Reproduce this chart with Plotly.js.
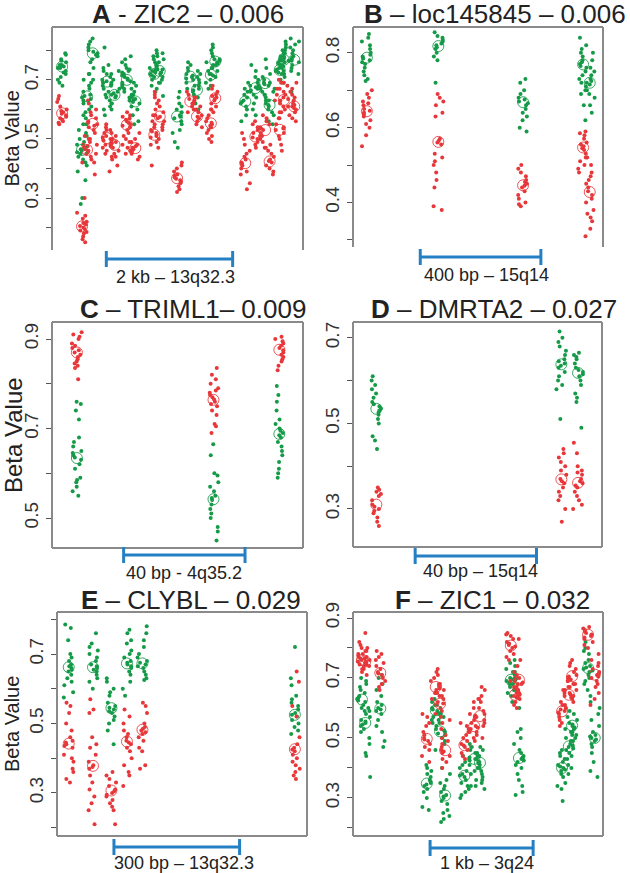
<!DOCTYPE html>
<html><head><meta charset="utf-8">
<script src="https://cdn.plot.ly/plotly-3.0.1.min.js"></script>
<style>html,body{margin:0;padding:0;background:#fff}#chart{width:630px;height:873px}</style>
</head><body><div id="chart"></div>
<script>
// ---------------- DATA ----------------
// Panel titles and scale-bar labels
const titles = ['<b>A</b> - ZIC2 \u2013 0.006', '<b>B</b> \u2013 loc145845 \u2013 0.006', '<b>C</b> \u2013 TRIML1\u2013 0.009',
                '<b>D</b> \u2013 DMRTA2 \u2013 0.027', '<b>E</b> \u2013 CLYBL \u2013 0.029', '<b>F</b> \u2013 ZIC1 \u2013 0.032'];
const scaleLabels = ['2 kb \u2013 13q32.3', '400 bp \u2013 15q14', '40 bp - 4q35.2', '40 bp \u2013 15q14', '300 bp \u2013 13q32.3', '1 kb \u2013 3q24'];
const scaleLengths = [2000, 400, 40, 40, 300, 1000]; // bp

// Panel A - ZIC2 (CpG positions in bp, beta values per site)
const A_pos = [160, 475, 555, 645, 870, 990, 1185, 1320, 1620, 1705, 1980, 2190, 2295, 2515, 2585, 3060, 3220, 3375, 3445, 3605, 3670, 3835];
const A_greenMid = [0.745, 0.463, 0.644, 0.79, 0.694, 0.649, 0.70, 0.627, 0.72, 0.73, 0.576, 0.711, 0.666, 0.717, 0.762, 0.627, 0.672, 0.689, 0.615, 0.734, 0.768, 0.768];
const A_redMid = [0.587, 0.204, 0.463, 0.551, 0.503, 0.48, 0.548, 0.469, 0.514, 0.576, 0.367, 0.627, 0.576, 0.553, 0.638, 0.418, 0.508, 0.53, 0.424, 0.531, 0.632, 0.61];
const A_green = [
 [0.79,0.785,0.77,0.765,0.76,0.75,0.75,0.745,0.74,0.74,0.73,0.725,0.72,0.71,0.70,0.69,0.68],
 [0.59,0.57,0.55,0.53,0.51,0.50,0.49,0.48,0.47,0.465,0.46,0.455,0.45,0.44,0.43,0.42,0.41,0.39,0.36,0.30,0.28],
 [0.72,0.70,0.69,0.68,0.67,0.66,0.65,0.645,0.64,0.635,0.63,0.62,0.61,0.60,0.58,0.55,0.52],
 [0.84,0.83,0.82,0.81,0.80,0.795,0.79,0.785,0.78,0.77,0.76,0.74,0.72,0.70],
 [0.81,0.75,0.74,0.73,0.72,0.71,0.70,0.695,0.69,0.685,0.68,0.67,0.66,0.65,0.64,0.62,0.60,0.58],
 [0.73,0.72,0.70,0.69,0.68,0.67,0.66,0.655,0.65,0.645,0.64,0.63,0.62,0.61,0.60],
 [0.78,0.77,0.76,0.75,0.74,0.735,0.73,0.725,0.72,0.715,0.71,0.705,0.70,0.695,0.69,0.685,0.68,0.675,0.67,0.66,0.65,0.64,0.63],
 [0.69,0.68,0.67,0.66,0.65,0.64,0.635,0.63,0.625,0.62,0.61,0.60,0.58,0.56,0.55],
 [0.80,0.79,0.78,0.77,0.76,0.75,0.745,0.74,0.735,0.73,0.725,0.72,0.715,0.71,0.70,0.69,0.68,0.67],
 [0.79,0.78,0.77,0.76,0.75,0.74,0.735,0.73,0.725,0.72,0.71,0.70,0.69,0.66,0.645],
 [0.66,0.64,0.62,0.61,0.60,0.59,0.58,0.575,0.57,0.56,0.55,0.53,0.52,0.49,0.47],
 [0.76,0.75,0.74,0.73,0.72,0.715,0.71,0.705,0.70,0.69,0.68,0.67],
 [0.73,0.72,0.71,0.70,0.69,0.68,0.67,0.665,0.66,0.65,0.64,0.62,0.60],
 [0.77,0.76,0.75,0.74,0.73,0.72,0.715,0.71,0.70,0.69,0.68,0.67],
 [0.82,0.81,0.80,0.79,0.78,0.77,0.765,0.76,0.755,0.75,0.74,0.73,0.72],
 [0.69,0.68,0.67,0.66,0.65,0.64,0.63,0.625,0.62,0.61,0.60,0.58,0.56],
 [0.75,0.73,0.71,0.70,0.69,0.68,0.675,0.67,0.665,0.66,0.65,0.64,0.62,0.60,0.58],
 [0.77,0.74,0.72,0.71,0.70,0.69,0.685,0.68,0.67,0.66,0.65,0.63],
 [0.69,0.67,0.66,0.65,0.64,0.63,0.62,0.615,0.61,0.60,0.59,0.58,0.56,0.55],
 [0.80,0.79,0.78,0.77,0.765,0.76,0.755,0.75,0.745,0.74,0.735,0.73,0.725,0.72,0.71,0.70,0.69],
 [0.83,0.82,0.81,0.80,0.79,0.78,0.775,0.77,0.765,0.76,0.75,0.74,0.73,0.72],
 [0.84,0.83,0.82,0.81,0.80,0.79,0.78,0.775,0.77,0.765,0.76,0.75,0.74,0.73,0.72,0.66]
];
const A_red = [
 [0.645,0.635,0.625,0.61,0.60,0.595,0.59,0.585,0.58,0.575,0.57,0.565,0.56,0.555,0.55],
 [0.30,0.25,0.24,0.23,0.22,0.215,0.21,0.205,0.20,0.195,0.19,0.185,0.18,0.17,0.16,0.15],
 [0.51,0.50,0.49,0.48,0.475,0.47,0.465,0.46,0.455,0.45,0.44,0.43,0.42],
 [0.63,0.62,0.60,0.59,0.58,0.57,0.56,0.555,0.55,0.545,0.54,0.53,0.52,0.50,0.48,0.45,0.42,0.38],
 [0.55,0.54,0.53,0.52,0.51,0.505,0.50,0.495,0.49,0.48,0.47,0.46,0.45,0.44],
 [0.53,0.52,0.51,0.50,0.49,0.485,0.48,0.475,0.47,0.46,0.45,0.44,0.43,0.41,0.39],
 [0.59,0.58,0.575,0.57,0.565,0.56,0.555,0.55,0.545,0.54,0.53,0.52,0.51,0.50,0.49,0.48,0.47,0.46,0.45],
 [0.52,0.50,0.49,0.48,0.475,0.47,0.465,0.46,0.455,0.45,0.44,0.43],
 [0.58,0.56,0.55,0.54,0.53,0.525,0.52,0.515,0.51,0.505,0.50,0.49,0.48,0.47,0.41],
 [0.66,0.65,0.64,0.63,0.62,0.61,0.60,0.59,0.58,0.575,0.57,0.56,0.55,0.54,0.53],
 [0.42,0.41,0.40,0.39,0.38,0.375,0.37,0.365,0.36,0.355,0.35,0.34,0.33,0.32],
 [0.66,0.65,0.64,0.635,0.63,0.625,0.62,0.61,0.60,0.59],
 [0.64,0.62,0.61,0.60,0.59,0.58,0.575,0.57,0.56,0.55,0.54],
 [0.60,0.59,0.58,0.57,0.56,0.555,0.55,0.545,0.54,0.53,0.52,0.51,0.50,0.49],
 [0.68,0.67,0.66,0.65,0.645,0.64,0.635,0.63,0.62,0.61,0.60],
 [0.52,0.50,0.48,0.46,0.45,0.44,0.43,0.42,0.415,0.41,0.40,0.39,0.38,0.35,0.33],
 [0.56,0.55,0.54,0.53,0.52,0.51,0.505,0.50,0.49,0.48,0.47],
 [0.58,0.57,0.56,0.55,0.54,0.535,0.53,0.52,0.51,0.50,0.49,0.47],
 [0.48,0.47,0.46,0.45,0.44,0.43,0.425,0.42,0.41,0.40,0.39,0.38],
 [0.69,0.67,0.65,0.63,0.61,0.59,0.57,0.55,0.54,0.535,0.53,0.52,0.51,0.50,0.48,0.46],
 [0.70,0.69,0.68,0.67,0.66,0.65,0.64,0.635,0.63,0.62,0.61,0.60,0.59,0.57],
 [0.69,0.67,0.66,0.65,0.64,0.63,0.62,0.615,0.61,0.605,0.60,0.59,0.58,0.57,0.56]
];

// Panel B - loc145845
const B_pos = [46, 283, 564, 763, 785];
const B_greenMid = [0.787, 0.818, 0.668, 0.769, 0.72];
const B_redMid = [0.644, 0.562, 0.446, 0.547, 0.428];
const B_green = [
 [0.85,0.84,0.83,0.82,0.81,0.80,0.795,0.79,0.785,0.78,0.775,0.77,0.76,0.75,0.74,0.73,0.725],
 [0.855,0.845,0.84,0.835,0.83,0.825,0.82,0.815,0.81,0.80,0.79,0.78,0.72],
 [0.73,0.72,0.70,0.69,0.68,0.675,0.67,0.665,0.66,0.65,0.64,0.63,0.62,0.60,0.59],
 [0.84,0.82,0.81,0.80,0.79,0.78,0.775,0.77,0.765,0.76,0.75,0.74,0.73,0.72,0.70,0.69,0.66],
 [0.80,0.78,0.76,0.75,0.74,0.73,0.725,0.72,0.715,0.71,0.70,0.69,0.68,0.66,0.64,0.62]
];
const B_red = [
 [0.70,0.69,0.68,0.67,0.665,0.66,0.65,0.645,0.64,0.635,0.63,0.62,0.61,0.60,0.58,0.55],
 [0.69,0.68,0.67,0.66,0.64,0.63,0.57,0.565,0.56,0.555,0.53,0.52,0.51,0.50,0.48,0.46,0.44,0.39,0.38],
 [0.50,0.49,0.48,0.47,0.46,0.455,0.45,0.445,0.44,0.43,0.42,0.41,0.40,0.395,0.39],
 [0.59,0.585,0.58,0.57,0.56,0.555,0.55,0.545,0.54,0.53,0.52,0.51,0.50,0.49,0.48],
 [0.52,0.50,0.48,0.47,0.46,0.45,0.44,0.43,0.42,0.41,0.40,0.38,0.37,0.36,0.35,0.33,0.31]
];

// Panel C - TRIML1
const C_pos = [8.2, 53.2, 74.9];
const C_greenMid = [0.634, 0.542, 0.688];
const C_redMid = [0.87, 0.764, 0.876];
const C_green = [
 [0.76,0.755,0.74,0.72,0.68,0.67,0.66,0.65,0.645,0.64,0.635,0.63,0.62,0.61,0.59,0.585,0.58,0.57,0.56,0.55],
 [0.665,0.64,0.60,0.595,0.58,0.57,0.56,0.55,0.545,0.54,0.53,0.52,0.51,0.50,0.48,0.47,0.45],
 [0.795,0.775,0.76,0.74,0.72,0.71,0.70,0.695,0.69,0.685,0.68,0.67,0.66,0.65,0.64,0.625,0.61,0.60,0.59]
];
const C_red = [
 [0.915,0.91,0.905,0.90,0.89,0.885,0.88,0.875,0.87,0.865,0.86,0.855,0.85,0.845,0.84,0.835,0.81],
 [0.835,0.82,0.81,0.80,0.79,0.785,0.78,0.775,0.77,0.765,0.76,0.755,0.75,0.74,0.73,0.71,0.705,0.69],
 [0.905,0.90,0.895,0.89,0.885,0.88,0.875,0.87,0.865,0.86,0.855,0.85,0.84,0.83]
];

// Panel D - DMRTA2
const D_pos = [7.7, 68.7, 74.2];
const D_greenMid = [0.534, 0.638, 0.618];
const D_redMid = [0.31, 0.369, 0.361];
const D_green = [
 [0.61,0.60,0.59,0.58,0.57,0.56,0.55,0.545,0.54,0.535,0.53,0.525,0.52,0.51,0.50,0.47,0.46,0.44],
 [0.715,0.70,0.69,0.68,0.67,0.66,0.65,0.645,0.64,0.635,0.63,0.62,0.61,0.60,0.59,0.58,0.51],
 [0.665,0.66,0.655,0.65,0.64,0.63,0.625,0.62,0.615,0.61,0.60,0.59,0.57,0.56,0.55,0.49]
];
const D_red = [
 [0.35,0.345,0.34,0.335,0.33,0.32,0.31,0.305,0.30,0.295,0.29,0.28,0.27,0.26],
 [0.44,0.43,0.42,0.41,0.40,0.39,0.38,0.37,0.365,0.36,0.35,0.34,0.33,0.32,0.30,0.27],
 [0.455,0.43,0.40,0.39,0.385,0.38,0.37,0.365,0.36,0.355,0.35,0.34,0.33,0.32,0.31,0.30]
];

// Panel E - CLYBL
const E_pos = [28, 86, 130, 167, 204, 568];
const E_greenMid = [0.662, 0.662, 0.544, 0.673, 0.673, 0.525];
const E_redMid = [0.442, 0.378, 0.307, 0.448, 0.482, 0.426];
const E_green = [
 [0.785,0.775,0.74,0.70,0.69,0.68,0.67,0.665,0.66,0.655,0.65,0.64,0.63,0.62,0.61,0.59,0.575],
 [0.76,0.73,0.72,0.71,0.70,0.69,0.68,0.67,0.665,0.66,0.655,0.65,0.64,0.63,0.62,0.60],
 [0.63,0.62,0.60,0.59,0.58,0.56,0.55,0.545,0.54,0.535,0.53,0.52,0.51,0.50,0.48,0.44],
 [0.77,0.76,0.74,0.73,0.71,0.70,0.69,0.68,0.675,0.67,0.665,0.66,0.65,0.64,0.62,0.60,0.58],
 [0.78,0.76,0.74,0.72,0.70,0.69,0.68,0.675,0.67,0.665,0.66,0.65,0.64,0.63,0.625],
 [0.72,0.63,0.61,0.58,0.57,0.56,0.55,0.54,0.53,0.525,0.52,0.51,0.50,0.49,0.48,0.47]
];
const E_red = [
 [0.56,0.55,0.53,0.50,0.48,0.46,0.45,0.445,0.44,0.435,0.43,0.41,0.40,0.39,0.37,0.36,0.34,0.33],
 [0.57,0.54,0.53,0.46,0.44,0.43,0.41,0.39,0.38,0.375,0.37,0.35,0.33,0.31,0.29,0.27,0.25,0.21],
 [0.36,0.35,0.34,0.33,0.32,0.31,0.305,0.30,0.295,0.29,0.28,0.27,0.26,0.25,0.21],
 [0.54,0.52,0.50,0.48,0.47,0.46,0.45,0.445,0.44,0.43,0.42,0.40,0.38,0.36,0.35,0.32],
 [0.56,0.55,0.53,0.50,0.49,0.485,0.48,0.475,0.47,0.46,0.45,0.43,0.42,0.38,0.37],
 [0.65,0.62,0.55,0.52,0.46,0.44,0.43,0.425,0.42,0.41,0.40,0.39,0.38,0.37,0.36,0.35,0.34]
];

// Panel F - ZIC1
const F_pos = [87, 119, 265, 716, 803, 845, 894, 1081, 1177, 1232, 1532, 1571, 1610, 2029, 2094, 2126, 2281, 2346];
const F_greenMid = [0.628, 0.55, 0.598, 0.348, 0.592, 0.522, 0.308, 0.374, 0.43, 0.417, 0.694, null, 0.433, 0.40, 0.472, 0.541, 0.733, 0.50];
const F_redMid = [0.76, 0.755, 0.717, 0.497, 0.67, 0.614, 0.459, 0.476, 0.539, 0.573, 0.808, 0.644, 0.694, 0.589, 0.644, 0.706, 0.844, 0.711];
const F_green = [
 [0.70,0.69,0.68,0.67,0.66,0.65,0.64,0.635,0.63,0.625,0.62,0.61,0.60,0.59],
 [0.60,0.59,0.58,0.57,0.56,0.555,0.55,0.545,0.54,0.53,0.52,0.50,0.48,0.45,0.44,0.37],
 [0.71,0.70,0.68,0.66,0.64,0.62,0.61,0.60,0.595,0.59,0.58,0.56,0.54,0.52,0.49,0.47],
 [0.41,0.40,0.39,0.38,0.37,0.36,0.355,0.35,0.345,0.34,0.33,0.32,0.30,0.27,0.26],
 [0.67,0.65,0.63,0.62,0.61,0.60,0.595,0.59,0.585,0.58,0.57,0.56,0.55],
 [0.58,0.57,0.56,0.55,0.54,0.53,0.525,0.52,0.515,0.51,0.50,0.49,0.48,0.46],
 [0.40,0.38,0.36,0.35,0.34,0.33,0.32,0.31,0.305,0.30,0.29,0.28,0.26,0.25,0.24,0.23,0.22],
 [0.44,0.43,0.42,0.41,0.40,0.39,0.38,0.375,0.37,0.36,0.35,0.34,0.33,0.32,0.31,0.30],
 [0.48,0.47,0.46,0.45,0.44,0.435,0.43,0.425,0.42,0.41,0.40,0.39,0.38,0.36,0.34],
 [0.47,0.46,0.45,0.44,0.43,0.42,0.415,0.41,0.40,0.39,0.38,0.37,0.36,0.35,0.34,0.33],
 [0.76,0.75,0.74,0.73,0.72,0.71,0.70,0.695,0.69,0.685,0.68,0.67,0.66,0.65],
 [0.72,0.70,0.68,0.66,0.64,0.62,0.60],
 [0.53,0.52,0.50,0.48,0.46,0.45,0.44,0.435,0.43,0.425,0.42,0.41,0.40,0.38,0.36,0.34,0.32,0.31],
 [0.46,0.45,0.44,0.43,0.42,0.41,0.405,0.40,0.395,0.39,0.38,0.37,0.35,0.34,0.33,0.29],
 [0.53,0.52,0.51,0.50,0.49,0.48,0.475,0.47,0.465,0.46,0.45,0.44,0.43,0.41,0.40,0.38],
 [0.59,0.58,0.57,0.56,0.55,0.545,0.54,0.535,0.53,0.52,0.51,0.50,0.49],
 [0.82,0.80,0.79,0.78,0.76,0.75,0.74,0.735,0.73,0.725,0.72,0.71,0.70,0.69,0.68,0.66,0.64],
 [0.62,0.60,0.58,0.56,0.54,0.52,0.51,0.505,0.50,0.495,0.49,0.48,0.47,0.45,0.42,0.39,0.37]
];
const F_red = [
 [0.85,0.82,0.80,0.79,0.78,0.775,0.77,0.765,0.76,0.755,0.75,0.745,0.74,0.73,0.72],
 [0.81,0.80,0.79,0.78,0.77,0.765,0.76,0.755,0.75,0.745,0.74,0.73,0.71],
 [0.79,0.78,0.77,0.76,0.75,0.74,0.73,0.72,0.715,0.71,0.70,0.69,0.68,0.67,0.66],
 [0.58,0.57,0.55,0.54,0.52,0.51,0.50,0.495,0.49,0.48,0.47,0.46,0.44,0.42],
 [0.73,0.72,0.71,0.70,0.69,0.68,0.675,0.67,0.665,0.66,0.65,0.64,0.63],
 [0.68,0.66,0.65,0.64,0.63,0.62,0.615,0.61,0.60,0.59,0.58,0.57,0.55],
 [0.56,0.53,0.51,0.50,0.49,0.48,0.47,0.46,0.455,0.45,0.44,0.43,0.42,0.40],
 [0.55,0.54,0.53,0.52,0.51,0.50,0.49,0.48,0.475,0.47,0.46,0.45,0.44,0.43],
 [0.63,0.62,0.60,0.58,0.57,0.56,0.55,0.54,0.535,0.53,0.52,0.51,0.50,0.49],
 [0.67,0.66,0.64,0.63,0.62,0.60,0.59,0.58,0.575,0.57,0.56,0.55,0.54,0.52,0.50],
 [0.85,0.845,0.84,0.83,0.82,0.815,0.81,0.805,0.80,0.79,0.78,0.77,0.76],
 [0.70,0.69,0.68,0.67,0.66,0.65,0.645,0.64,0.635,0.63,0.62,0.61,0.60],
 [0.83,0.76,0.74,0.72,0.71,0.70,0.695,0.69,0.685,0.68,0.67,0.66,0.65,0.64],
 [0.66,0.65,0.64,0.62,0.61,0.60,0.595,0.59,0.585,0.58,0.57,0.56,0.55,0.54],
 [0.70,0.69,0.68,0.67,0.66,0.65,0.645,0.64,0.635,0.63,0.62,0.61,0.60],
 [0.76,0.75,0.74,0.73,0.72,0.71,0.705,0.70,0.695,0.69,0.68,0.67,0.66],
 [0.87,0.865,0.86,0.855,0.85,0.845,0.84,0.835,0.83,0.82,0.81,0.80],
 [0.78,0.76,0.75,0.74,0.73,0.72,0.715,0.71,0.705,0.70,0.69,0.68,0.67,0.65,0.63,0.61]
];

// Y tick values and labels
const A_ticks = [0.2,0.3,0.4,0.5,0.6,0.7,0.8], A_tickText = ['','0.3','','0.5','','0.7',''];
const B_ticks = [0.3,0.4,0.5,0.6,0.7,0.8], B_tickText = ['','0.4','','0.6','','0.8'];
const C_ticks = [0.5,0.6,0.7,0.8,0.9], C_tickText = ['0.5','','0.7','','0.9'];
const D_ticks = [0.3,0.4,0.5,0.6,0.7], D_tickText = ['0.3','','0.5','','0.7'];
const E_ticks = [0.2,0.3,0.4,0.5,0.6,0.7,0.8], E_tickText = ['','0.3','','0.5','','0.7',''];
const F_ticks = [0.2,0.3,0.4,0.5,0.6,0.7,0.8,0.9], F_tickText = ['','0.3','','0.5','','0.7','','0.9'];

// ---------------- STYLE / LAYOUT ----------------
const W = 630, H = 873;
const GREEN = '#159a48', RED = '#e8373a', BLUE = '#2580c3', BOXC = '#8a8a8a';
const FONT = 'Liberation Sans, Arial, Helvetica, sans-serif';

const panelData = [
  {pos: A_pos, g: A_green, r: A_red, gm: A_greenMid, rm: A_redMid, tv: A_ticks, tt: A_tickText},
  {pos: B_pos, g: B_green, r: B_red, gm: B_greenMid, rm: B_redMid, tv: B_ticks, tt: B_tickText},
  {pos: C_pos, g: C_green, r: C_red, gm: C_greenMid, rm: C_redMid, tv: C_ticks, tt: C_tickText},
  {pos: D_pos, g: D_green, r: D_red, gm: D_greenMid, rm: D_redMid, tv: D_ticks, tt: D_tickText},
  {pos: E_pos, g: E_green, r: E_red, gm: E_greenMid, rm: E_redMid, tv: E_ticks, tt: E_tickText},
  {pos: F_pos, g: F_green, r: F_red, gm: F_greenMid, rm: F_redMid, tv: F_ticks, tt: F_tickText}
];
// pixel boxes [left, right, top, bottom], axis ranges, scale bar placement
const panelStyle = [
  {box:[52,303,27,250],  xr:[0,3974], yr:[0.124,0.879], bottom:false, barX0:860, barY:259, labX:175, labY:277, tX:188, tY:14, yt:20, ytX:11},
  {box:[353,603,27,247], xr:[0,829],  yr:[0.281,0.869], bottom:false, barX0:223, barY:257, labX:486, labY:275, tX:495, tY:14, yt:0},
  {box:[52,303,322,548], xr:[0,82.7], yr:[0.433,0.938], bottom:true,  barX0:23.6, barY:555, labX:184, labY:573, tX:193, tY:309, yt:24, ytX:13},
  {box:[353,602,322,547],xr:[0,82.1], yr:[0.211,0.737], bottom:true,  barX0:20.5, barY:556, labX:481, labY:571, tX:494, tY:309, yt:0},
  {box:[57,307,612,836], xr:[0,597],  yr:[0.176,0.821], bottom:true,  barX0:136, barY:847, labX:184, labY:863, tX:191, tY:600, yt:20, ytX:12},
  {box:[353,603,612,836],xr:[0,2426], yr:[0.173,0.920], bottom:true,  barX0:748, barY:848, labX:487, labY:863, tX:492, tY:600, yt:0}
];
const JIT_PX = 5;

// deterministic jitter (layout only, not data)
const jitter = (i, j, seed) => { const t = Math.sin(i * 78.233 + j * 12.9898 + seed) * 43758.5453; return (t - Math.floor(t)) - 0.5; };

const px = v => v / W, py = v => 1 - v / H;
const traces = [], shapes = [], annotations = [];
const layout = {
  width: W, height: H, margin: {l:0, r:0, t:0, b:0},
  paper_bgcolor: '#fff', plot_bgcolor: '#fff', showlegend: false,
  font: {family: FONT, color: '#222'}
};

panelData.forEach((d, k) => {
  const s = panelStyle[k];
  const n = k + 1, xa = 'x' + (k ? n : ''), ya = 'y' + (k ? n : '');
  const xKey = 'xaxis' + (k ? n : ''), yKey = 'yaxis' + (k ? n : '');
  const [L, R, T, B] = s.box;
  const hw = JIT_PX * (s.xr[1] - s.xr[0]) / (R - L);
  layout[xKey] = {domain: [px(L), px(R)], range: s.xr, anchor: ya, showgrid: false, zeroline: false,
                  showline: false, showticklabels: false, ticks: '', fixedrange: true};
  layout[yKey] = {domain: [py(B), py(T)], range: s.yr, anchor: xa, showgrid: false, zeroline: false,
                  showline: false, ticks: 'outside', ticklen: 5, tickwidth: 1, tickcolor: '#555',
                  tickmode: 'array', tickvals: d.tv, ticktext: d.tt, tickangle: -90,
                  tickfont: {size: 19, color: '#333', family: FONT}, fixedrange: true};

  const build = (vals, col, seed) => {
    const xs = [], ys = [];
    vals.forEach((arr, i) => arr.forEach((v, j) => {
      xs.push(d.pos[i] + jitter(i + k * 31, j, seed) * 2 * hw); ys.push(v);
    }));
    traces.push({type: 'scatter', mode: 'markers', x: xs, y: ys, xaxis: xa, yaxis: ya,
                 marker: {size: 4, color: col, line: {width: 0}}, hoverinfo: 'skip'});
  };
  build(d.g, GREEN, 1.7);
  build(d.r, RED, 5.3);
  [[d.gm, GREEN], [d.rm, RED]].forEach(([m, col]) => {
    traces.push({type: 'scatter', mode: 'markers', x: d.pos, y: m, xaxis: xa, yaxis: ya,
                 marker: {symbol: 'circle-open', size: 11, color: col, opacity: 0.85, line: {width: 1, color: col}}, hoverinfo: 'skip'});
  });

  // frame
  const lineS = {color: BOXC, width: 2};
  shapes.push({type:'line', xref:'paper', yref:'paper', x0:px(L), x1:px(L), y0:py(T), y1:py(B), line: lineS});
  shapes.push({type:'line', xref:'paper', yref:'paper', x0:px(R), x1:px(R), y0:py(T), y1:py(B), line: lineS});
  shapes.push({type:'line', xref:'paper', yref:'paper', x0:px(L), x1:px(R), y0:py(T), y1:py(T), line: lineS});
  if (s.bottom) shapes.push({type:'line', xref:'paper', yref:'paper', x0:px(L), x1:px(R), y0:py(B), y1:py(B), line: lineS});

  // scale bar (length in bp, drawn on the data x-axis)
  const bx0 = s.barX0, bx1 = s.barX0 + scaleLengths[k];
  const barL = {color: BLUE, width: 3};
  shapes.push({type:'line', xref: xa, yref:'paper', x0:bx0, x1:bx1, y0:py(s.barY), y1:py(s.barY), line: barL});
  shapes.push({type:'line', xref: xa, yref:'paper', x0:bx0, x1:bx0, y0:py(s.barY-8), y1:py(s.barY+8), line: barL});
  shapes.push({type:'line', xref: xa, yref:'paper', x0:bx1, x1:bx1, y0:py(s.barY-8), y1:py(s.barY+8), line: barL});
  annotations.push({xref:'paper', yref:'paper', x:px(s.labX), y:py(s.labY), text: scaleLabels[k], showarrow:false,
                    xanchor:'center', yanchor:'middle', font:{size:18, color:'#222', family: FONT}});
  // title
  annotations.push({xref:'paper', yref:'paper', x:px(s.tX), y:py(s.tY), text: titles[k], showarrow:false,
                    xanchor:'center', yanchor:'middle', font:{size:26, color:'#222', family: FONT}});
  if (s.yt) annotations.push({xref:'paper', yref:'paper', x:px(s.ytX), y:py((T+B)/2), text:'Beta Value', showarrow:false,
                    textangle:-90, xanchor:'center', yanchor:'middle', font:{size:s.yt, color:'#222', family: FONT}});
});
layout.shapes = shapes;
layout.annotations = annotations;
Plotly.newPlot('chart', traces, layout, {staticPlot: true, displayModeBar: false});
</script></body></html>
